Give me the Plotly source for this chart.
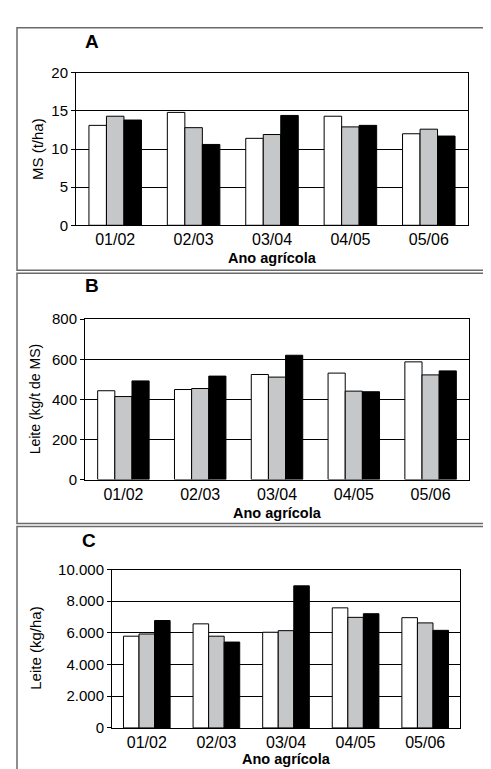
import plotly.graph_objects as go

W, H = 491, 769
FONT = "Liberation Sans, Arial, sans-serif"

years = ["01/02", "02/03", "03/04", "04/05", "05/06"]

ms_white = [13.1, 14.8, 11.4, 14.3, 12.0]
ms_gray = [14.3, 12.8, 11.9, 12.9, 12.6]
ms_black = [13.8, 10.6, 14.4, 13.1, 11.7]

lk_white = [443, 449, 524, 531, 587]
lk_gray = [414, 454, 511, 441, 522]
lk_black = [492, 516, 620, 438, 542]

lh_white = [5790, 6570, 6040, 7580, 6960]
lh_gray = [5930, 5790, 6140, 6980, 6630]
lh_black = [6780, 5420, 8970, 7210, 6160]

panel_letters = ["A", "B", "C"]
y_titles = ["MS (t/ha)", "Leite (kg/t de MS)", "Leite (kg/ha)"]
x_title = "Ano agrícola"
y_ranges = [[0, 20], [0, 800], [0, 10000]]
y_dticks = [5, 200, 2000]

fill_colors = ["#ffffff", "#c6c7c9", "#000000"]
series = [
    [ms_white, ms_gray, ms_black],
    [lk_white, lk_gray, lk_black],
    [lh_white, lh_gray, lh_black],
]

# plot areas in pixels: left, right, top, bottom
areas = [(68, 460, 57, 213), (77, 461, 309, 473), (104, 452, 565, 727)]
boxes = [(9, 490, 11, 259), (9, 490, 262, 518), (9, 490, 521, 775)]
letter_pos = [(84, 25), (84, 275), (81, 535)]
ytitle_pos = [(29, 135), (27, 391), (28, 646)]
xtitle_y = [246, 507, 759]


def px(x):
    return x / W


def py(y):
    return 1 - y / H


fig = go.Figure()
layout = dict(
    width=W, height=H, margin=dict(l=0, r=0, t=0, b=0),
    paper_bgcolor="white", plot_bgcolor="white",
    showlegend=False, barmode="group", bargap=0.33, bargroupgap=0,
    separators=",.",
    font=dict(family=FONT, size=15, color="black"),
)
annotations = []
shapes = []

for i in range(3):
    sfx = "" if i == 0 else str(i + 1)
    l, r, t, b = areas[i]
    for vals, col in zip(series[i], fill_colors):
        fig.add_trace(go.Bar(
            x=years, y=vals, marker=dict(color=col, line=dict(color="black", width=1)),
            xaxis="x" + sfx, yaxis="y" + sfx,
        ))
    layout["xaxis" + sfx] = dict(
        domain=[px(l), px(r)], anchor="y" + sfx, showline=True, mirror=True,
        linecolor="black", linewidth=1, ticks="", showgrid=False,
        tickfont=dict(size=16, family=FONT),
    )
    layout["yaxis" + sfx] = dict(
        domain=[py(b), py(t)], anchor="x" + sfx, range=y_ranges[i], dtick=y_dticks[i],
        tickformat=",d", showline=True, mirror=True, linecolor="black", linewidth=1,
        ticks="outside", ticklen=4, tickcolor="black", showgrid=True,
        gridcolor="black", gridwidth=1, zeroline=False,
        tickfont=dict(size=15, family=FONT),
    )
    bl, br, bt, bb = boxes[i]
    shapes.append(dict(type="rect", xref="paper", yref="paper",
                       x0=px(bl), x1=px(br), y0=py(bb), y1=py(bt),
                       line=dict(color="#6a6a6a", width=1.5), layer="below"))
    lx, ly = letter_pos[i]
    annotations.append(dict(text="<b>" + panel_letters[i] + "</b>", x=px(lx), y=py(ly),
                            xref="paper", yref="paper", showarrow=False,
                            xanchor="center", yanchor="middle",
                            font=dict(size=19, family=FONT)))
    tx, ty = ytitle_pos[i]
    annotations.append(dict(text=y_titles[i], x=px(tx), y=py(ty), xref="paper", yref="paper",
                            showarrow=False, textangle=-90, xanchor="center", yanchor="middle",
                            font=dict(size=14 if i == 1 else 15, family=FONT)))
    annotations.append(dict(text="<b>" + x_title + "</b>", x=px((l + r) / 2), y=py(xtitle_y[i]),
                            xref="paper", yref="paper", showarrow=False,
                            xanchor="center", yanchor="middle",
                            font=dict(size=14.5, family=FONT)))

layout["annotations"] = annotations
layout["shapes"] = shapes
fig.update_layout(**layout)
fig.write_html("out.html")
